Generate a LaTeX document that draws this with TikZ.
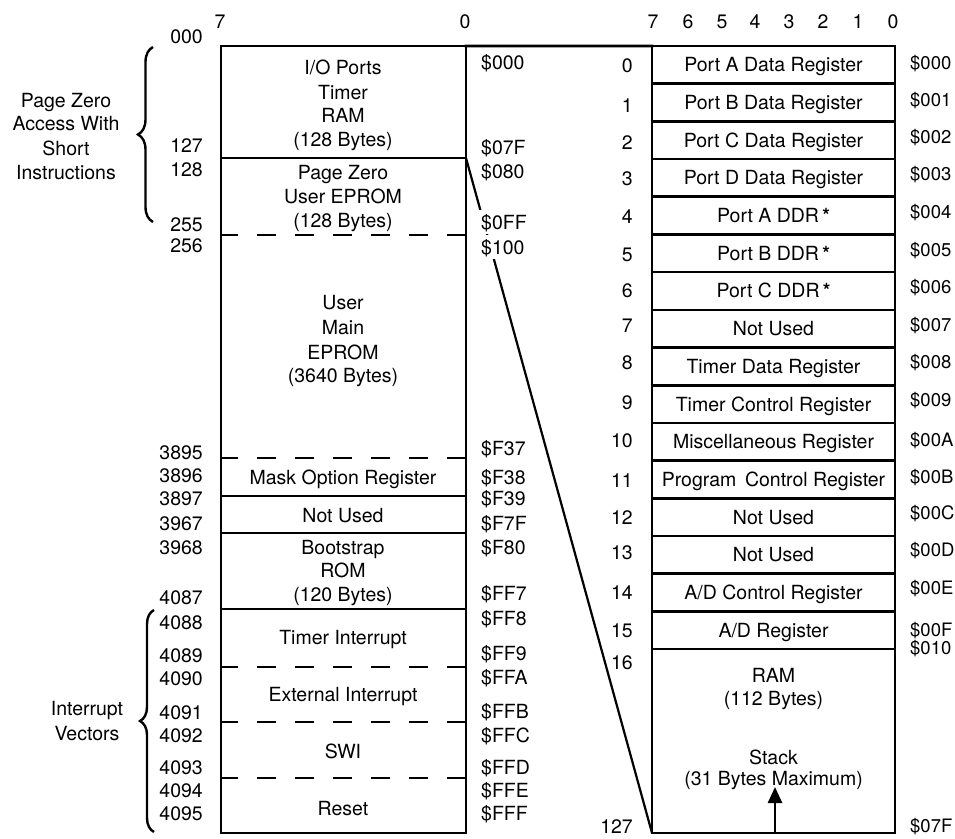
\documentclass[tikz,border=0pt]{standalone}
\usepackage{fontspec}
\setmainfont{TeX Gyre Heros}
\usetikzlibrary{decorations.pathreplacing,arrows.meta}
\begin{document}
\begin{tikzpicture}[x=1pt,y=-1pt,
  txt/.style={font=\fontsize{19.5}{24}\selectfont, inner sep=0pt, text height=14pt, text depth=0pt},
  hexr/.style={font=\fontsize{18.5}{24}\selectfont, inner sep=0pt, text height=13.5pt, text depth=0pt, anchor=west},
  outerbox/.style={draw, line width=2.8pt, inner sep=0pt, outer sep=0pt},
  cell/.style={txt, draw, line width=2.6pt, outer sep=0pt, minimum width=243pt, minimum height=37.69pt},
  solidsep/.style={line width=2.6pt},
  dashsep/.style={line width=2.6pt, dash pattern=on 19pt off 19pt, dash phase=2pt},
  fanline/.style={line width=2.2pt},
  bracestyle/.style={line width=2.4pt, decorate},
  whitelbl/.style={txt, fill=white, inner sep=5pt}
]
\useasboundingbox (0,0) rectangle (955,838);

% ---- headers
\node[txt] (h7) at (220,21) {7};
\node[txt] (h0) at (465,21) {0};
\foreach \b/\xx in {7/653,6/688,5/722,4/755,3/789,2/823,1/858,0/893}
  \node[txt] (bit\b) at (\xx,21) {\b};

% ---- left memory map
\node[outerbox, minimum width=245pt, minimum height=787pt] (mem) at (343.5,439.5) {};
\coordinate (s1) at (0,158);
\coordinate (s2) at (0,235);
\coordinate (s3) at (0,458);
\coordinate (s4) at (0,496);
\coordinate (s5) at (0,533);
\coordinate (s6) at (0,609);
\coordinate (s7) at (0,667);
\coordinate (s8) at (0,722);
\coordinate (s9) at (0,778);
\draw[solidsep] (mem.west |- s1) -- (mem.east |- s1);
\draw[dashsep]  (mem.west |- s2) -- (mem.east |- s2);
\draw[dashsep]  (mem.west |- s3) -- (mem.east |- s3);
\draw[solidsep] (mem.west |- s4) -- (mem.east |- s4);
\draw[solidsep] (mem.west |- s5) -- (mem.east |- s5);
\draw[solidsep] (mem.west |- s6) -- (mem.east |- s6);
\draw[dashsep]  (mem.west |- s7) -- (mem.east |- s7);
\draw[dashsep]  (mem.west |- s8) -- (mem.east |- s8);
\draw[dashsep]  (mem.west |- s9) -- (mem.east |- s9);

\node[txt] (m1) at (343,67) {I/O Ports};
\node[txt] (m2) at (343,92) {Timer};
\node[txt] (m3) at (343,115) {RAM};
\node[txt] (m4) at (343,139) {(128 Bytes)};
\node[txt] (m5) at (343,172) {Page Zero};
\node[txt] (m6) at (343,196) {User EPROM};
\node[txt] (m7) at (343,220) {(128 Bytes)};
\node[txt] (m8) at (343,302) {User};
\node[txt] (m9) at (343,327) {Main};
\node[txt] (m10) at (343,352) {EPROM};
\node[txt] (m11) at (343,375) {(3640 Bytes)};
\node[txt] (m12) at (343,477) {Mask Option Register};
\node[txt] (m13) at (343,515) {Not Used};
\node[txt] (m14) at (343,547) {Bootstrap};
\node[txt] (m15) at (343,570) {ROM};
\node[txt] (m16) at (343,594) {(120 Bytes)};
\node[txt] (m17) at (343,637) {Timer Interrupt};
\node[txt] (m18) at (343,694) {External Interrupt};
\node[txt] (m19) at (343,751) {SWI};
\node[txt] (m20) at (343,808) {Reset};

% decimal addresses
\foreach \v/\yy [count=\k] in {000/36,127/145,128/169,255/224,256/245,3895/452,3896/475,3897/498,3967/523,3968/547,4087/597,4088/622,4089/655,4090/678,4091/712,4092/735,4093/767,4094/790,4095/813}
  \node[txt, anchor=east] (dec\k) at (203,\yy) {\v};

% braces and their labels
\draw[bracestyle, decoration={brace, amplitude=15pt}] (153,222) -- (153,47);
\draw[bracestyle, decoration={brace, amplitude=14pt}] (154,832) -- (154,610);
\node[txt] (pz1) at (66,100) {Page Zero};
\node[txt] (pz2) at (66,123) {Access With};
\node[txt] (pz3) at (66,148) {Short};
\node[txt] (pz4) at (66,172) {Instructions};
\node[txt] (iv1) at (87,708) {Interrupt};
\node[txt] (iv2) at (87,733) {Vectors};

% ---- right page-zero detail
\node[cell] (r0) at (773.5,64.85) {Port A Data Register};
\node[cell] (r1) at (773.5,102.54) {Port B Data Register};
\node[cell] (r2) at (773.5,140.23) {Port C Data Register};
\node[cell] (r3) at (773.5,177.92) {Port D Data Register};
\node[cell] (r4) at (773.5,215.61) {Port A DDR\,{\bfseries *}};
\node[cell] (r5) at (773.5,253.30) {Port B DDR\,{\bfseries *}};
\node[cell] (r6) at (773.5,290.99) {Port C DDR\,{\bfseries *}};
\node[cell] (r7) at (773.5,328.68) {Not Used};
\node[cell] (r8) at (773.5,366.37) {Timer Data Register};
\node[cell] (r9) at (773.5,404.06) {Timer Control Register};
\node[cell] (r10) at (773.5,441.75) {Miscellaneous Register};
\node[cell] (r11) at (773.5,479.44) {Program\, Control Register};
\node[cell] (r12) at (773.5,517.13) {Not Used};
\node[cell] (r13) at (773.5,554.82) {Not Used};
\node[cell] (r14) at (773.5,592.51) {A/D Control Register};
\node[cell] (r15) at (773.5,630.20) {A/D Register};
\node[draw, line width=2.6pt, inner sep=0pt, outer sep=0pt, minimum width=243pt, minimum height=183.96pt] (ram) at (773.5,741.02) {};
\node[txt] (ram1) at (773.5,675) {RAM};
\node[txt] (ram2) at (773.5,698) {(112 Bytes)};
\node[txt] (ram3) at (773.5,757) {Stack};
\node[txt] (ram4) at (773.5,778) {(31 Bytes Maximum)};
\coordinate (stk) at (775,787);
\draw[line width=2.6pt, -{Triangle[length=16pt,width=14pt]}] (ram.south -| stk) -- (stk);

% row numbers
\foreach \v/\yy in {0/65,1/105,2/142,3/178,4/216,5/254,6/290,7/325,8/362,9/402,10/440,11/480,12/517,13/552,14/592,15/630,16/662,127/826}
  \node[txt, anchor=east] (rn\v) at (633,\yy) {\v};

% right hex addresses
\foreach \v/\yy [count=\k] in {000/63,001/100,002/137,003/174,004/212,005/250,006/287,007/325,008/362,009/400,00A/440,00B/477,00C/513,00D/550,00E/588,00F/630,010/648,07F/826}
  \node[hexr] (rh\k) at (910,\yy) {\$\v};

% ---- fan lines from page zero to the detail
\draw[line width=2.8pt, line cap=rect] (mem.north east) -- (r0.north west);
\draw[fanline] (mem.east |- s1) -- (ram.south west);

% left hex addresses
\foreach \v/\yy [count=\k] in {000/62,07F/147,080/171,F37/448,F38/477,F39/498,F7F/523,F80/547,FF7/593,FF8/618,FF9/653,FFA/677,FFB/711,FFC/735,FFD/767,FFE/790,FFF/813}
  \node[txt, anchor=west] (lh\k) at (481,\yy) {\$\v};
\node[whitelbl, anchor=west] (lhff) at (476,222) {\$0FF};
\node[whitelbl, anchor=west] (lh100) at (476,247) {\$100};
\end{tikzpicture}
\end{document}
